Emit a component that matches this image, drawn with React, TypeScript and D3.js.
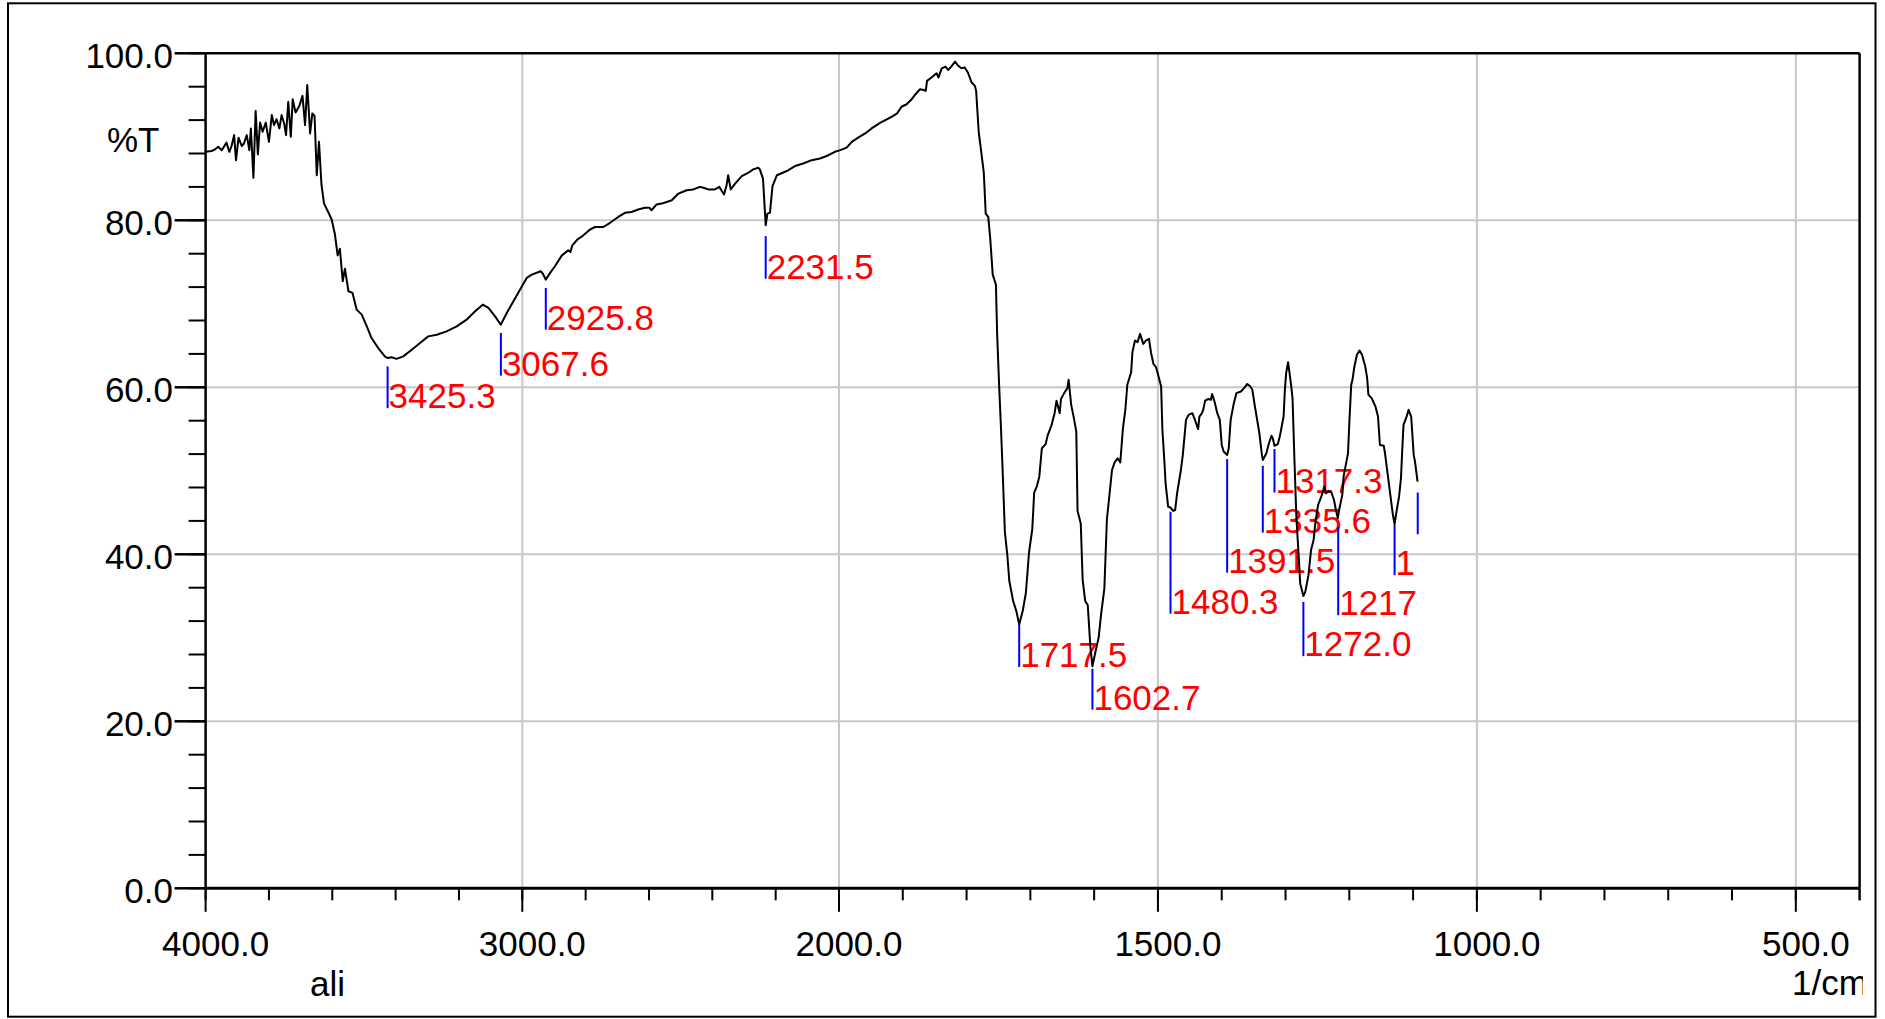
import React from 'react';
import * as d3 from 'd3';

// IR spectrum (Shimadzu style)
const wavenumbers = [
  4000, 3981, 3970, 3960, 3949, 3934, 3925, 3918, 3910, 3904, 3896, 3886, 3879, 3870, 3862, 3857,
  3849, 3842, 3835, 3828, 3820, 3810, 3800, 3791, 3784, 3776, 3767, 3760, 3752, 3746, 3739, 3731,
  3725, 3716, 3704, 3694, 3686, 3679, 3670, 3663, 3656, 3649, 3642, 3634, 3626, 3613, 3602, 3592,
  3583, 3576, 3567, 3560, 3549, 3536, 3523, 3507, 3491, 3476, 3455, 3434, 3425, 3413, 3397, 3376,
  3349, 3323, 3297, 3270, 3239, 3207, 3176, 3149, 3125, 3107, 3086, 3068, 3049, 3028, 3007, 2986,
  2970, 2942, 2935, 2926, 2912, 2897, 2875, 2855, 2848, 2842, 2826, 2807, 2786, 2770, 2744, 2723,
  2697, 2676, 2655, 2634, 2613, 2599, 2592, 2576, 2560, 2544, 2528, 2507, 2481, 2460, 2439, 2428,
  2413, 2392, 2378, 2363, 2355, 2350, 2342, 2328, 2307, 2286, 2271, 2255, 2250, 2240, 2231.5, 2226,
  2218, 2210, 2196, 2165, 2139, 2113, 2086, 2060, 2039, 2013, 1998, 1988, 1980, 1970, 1959, 1949,
  1941, 1935, 1925, 1915, 1909, 1902, 1894, 1886, 1880, 1873, 1867, 1864, 1862, 1855, 1847, 1844,
  1839, 1833, 1829, 1824, 1818, 1813, 1808, 1803, 1798, 1792, 1787, 1785, 1781, 1777, 1773, 1770,
  1766, 1763, 1759, 1754, 1752, 1749, 1746, 1743, 1740, 1736, 1733, 1727, 1722, 1717.5, 1712, 1707,
  1702, 1697, 1694, 1690, 1686, 1682, 1676, 1673, 1667, 1662, 1659, 1654, 1652, 1647, 1642, 1640,
  1636, 1632, 1628, 1626, 1621, 1618, 1614, 1610, 1606, 1602.7, 1598, 1593, 1589, 1584, 1580, 1576,
  1572, 1568, 1563, 1559, 1555, 1551, 1548, 1542, 1540, 1536, 1532, 1528, 1523, 1519, 1514, 1511,
  1507, 1503, 1499, 1495, 1493, 1490, 1488, 1484, 1480.3, 1476, 1473, 1470, 1464, 1461, 1456, 1452,
  1446, 1442, 1437, 1435, 1431, 1429, 1426, 1421, 1417, 1415, 1411, 1407, 1403, 1400, 1397, 1391.5,
  1389, 1386, 1381, 1377, 1370, 1365, 1360, 1355, 1352, 1348, 1344, 1341, 1337, 1335.6, 1330, 1326,
  1322, 1320, 1317.3, 1312, 1309, 1305, 1303, 1301, 1299, 1296, 1294, 1291, 1289, 1286, 1283, 1279,
  1277, 1272, 1269, 1264, 1260, 1256, 1253, 1249, 1245, 1243, 1239, 1237, 1232, 1228, 1224, 1221,
  1218, 1216, 1211, 1209, 1206, 1202, 1200, 1197, 1195, 1192, 1188, 1184, 1180, 1175, 1172, 1170,
  1165, 1159, 1155, 1152, 1146, 1144, 1140, 1136, 1132, 1129, 1126, 1122, 1119, 1117, 1115, 1111,
  1107, 1103, 1099, 1097, 1093,
];

const transmittance = [
  88.2, 88.3, 88.5, 88.8, 88.4, 89.3, 88.2, 88.9, 90.2, 87.2, 89.9, 88.9, 89.2, 90.2, 88.4, 91.0,
  85.1, 93.1, 87.9, 91.7, 90.6, 91.7, 89.4, 92.6, 91.4, 92.1, 91.0, 92.6, 91.6, 90.2, 94.2, 90.0,
  94.5, 92.9, 93.7, 94.9, 91.4, 96.2, 90.4, 92.8, 92.5, 85.4, 89.4, 84.2, 82.0, 81.0, 80.1, 78.4,
  75.8, 76.6, 72.7, 74.2, 71.5, 71.3, 69.3, 68.7, 67.3, 65.9, 64.7, 63.7, 63.5, 63.6, 63.4, 63.7,
  64.5, 65.3, 66.1, 66.3, 66.7, 67.3, 68.1, 69.1, 69.9, 69.5, 68.5, 67.5, 68.9, 70.3, 71.7, 73.1,
  73.5, 73.9, 73.6, 72.9, 73.7, 74.5, 75.8, 76.4, 76.2, 77.0, 77.7, 78.2, 78.9, 79.2, 79.2, 79.7,
  80.4, 80.9, 81.0, 81.3, 81.5, 81.5, 81.2, 81.9, 82.0, 82.2, 82.4, 83.2, 83.6, 83.7, 84.0, 83.9,
  83.7, 83.7, 84.0, 83.1, 84.2, 85.4, 83.7, 84.4, 85.3, 85.7, 86.1, 86.3, 86.1, 85.0, 79.4, 80.8,
  80.9, 84.1, 85.4, 85.9, 86.5, 86.8, 87.2, 87.4, 87.7, 88.2, 88.4, 88.7, 89.4, 89.9, 90.4, 91.0,
  91.4, 91.7, 92.1, 92.5, 92.8, 93.6, 93.9, 94.5, 95.1, 95.7, 95.6, 95.5, 96.7, 97.1, 97.6, 97.1,
  98.2, 98.4, 98.0, 98.4, 99.0, 98.5, 98.2, 98.3, 97.7, 96.5, 96.1, 95.5, 90.6, 88.2, 85.7, 80.8,
  80.4, 77.9, 73.5, 72.3, 66.2, 60.3, 55.0, 49.1, 42.7, 39.8, 36.8, 34.4, 33.2, 31.6, 33.2, 35.4,
  40.3, 43.0, 47.4, 48.1, 49.3, 52.7, 53.2, 54.2, 55.4, 56.9, 58.4, 56.9, 58.6, 59.3, 59.9, 60.9,
  57.9, 56.4, 54.7, 45.2, 43.7, 36.9, 34.4, 33.9, 29.0, 26.6, 28.3, 30.0, 32.9, 35.9, 44.2, 47.1,
  50.1, 51.0, 51.5, 51.0, 55.0, 57.4, 60.3, 61.8, 64.2, 65.6, 65.4, 66.4, 65.2, 65.6, 65.8, 64.2,
  62.8, 62.4, 61.3, 60.1, 54.9, 51.3, 48.5, 45.7, 45.6, 45.2, 45.3, 47.3, 50.1, 51.9, 56.1, 56.7,
  56.9, 56.1, 55.0, 56.5, 56.9, 57.3, 58.4, 58.6, 58.5, 59.2, 58.2, 56.9, 56.1, 53.1, 52.3, 51.9,
  52.7, 56.1, 58.1, 59.3, 59.5, 59.9, 60.4, 60.1, 59.7, 57.7, 55.9, 54.5, 51.9, 51.3, 52.1, 53.3,
  54.2, 53.9, 53.0, 53.2, 54.1, 55.7, 56.5, 59.7, 61.7, 63.0, 61.9, 60.1, 58.7, 51.3, 44.5, 39.3,
  36.5, 35.0, 35.5, 37.5, 40.5, 41.7, 43.9, 45.9, 46.7, 47.1, 48.1, 47.3, 47.6, 47.4, 46.5, 45.3,
  44.3, 45.3, 47.1, 49.3, 50.5, 52.1, 55.7, 60.3, 60.9, 62.5, 63.9, 64.4, 63.9, 62.5, 61.1, 59.1,
  58.7, 57.7, 56.5, 53.1, 53.0, 52.1, 49.7, 47.3, 44.9, 43.6, 45.1, 46.9, 49.1, 52.5, 55.5, 56.3,
  57.3, 56.5, 51.9, 51.1, 48.7,
];

// axis ticks
const xMajorTicks = [4000, 3000, 2000, 1500, 1000, 500];
const xTickLabels = ['4000.0', '3000.0', '2000.0', '1500.0', '1000.0', '500.0'];
const yMajorTicks = [0, 20, 40, 60, 80, 100];
const yTickLabels = ['0.0', '20.0', '40.0', '60.0', '80.0', '100.0'];

// peak picks: position, label, marker start / end in %T
const peakWaves = [3425.3, 3067.6, 2925.8, 2231.5, 1717.5, 1602.7, 1480.3, 1391.5, 1335.6, 1317.3, 1272.0, 1217.4, 1129.0, 1092.7];
const peakLabels = ['3425.3', '3067.6', '2925.8', '2231.5', '1717.5', '1602.7', '1480.3', '1391.5', '1335.6', '1317.3', '1272.0', '1217', '1', ''];
const peakMarkTop = [62.5, 66.5, 71.9, 78.1, 31.6, 26.3, 45.1, 51.4, 50.6, 52.6, 34.3, 43.3, 43.5, 47.4];
const peakMarkBottom = [57.5, 61.4, 66.9, 73.0, 26.5, 21.4, 32.9, 37.8, 42.6, 47.4, 27.8, 32.7, 37.5, 42.4];

const FONT = "'Liberation Sans', Arial, sans-serif";

export default function App() {
  const width = 1885;
  const height = 1019;
  const left = 205.6;
  const right = 1859.6;
  const top = 53.3;
  const bottom = 888.3;

  // x has a scale change at 2000 (upper range compressed by 2)
  const x = d3.scaleLinear().domain([4000, 2000, 400]).range([left, 839, right]);
  const y = d3.scaleLinear().domain([0, 100]).range([bottom, top]);

  const minorX = d3.range(4000, 2000, -200).concat(d3.range(2000, 399, -100));
  const minorY = d3.range(0, 101, 4);

  const line = d3.line<number>()
    .x((_, i) => x(wavenumbers[i]))
    .y(d => y(d));

  const grid = '#c8c8c8';

  return (
    <svg width={width} height={height} style={{ position: 'absolute', left: 0, top: 0, background: '#fff' }}
      fontFamily={FONT}>
      <defs>
        <clipPath id="unitClip">
          <rect x={0} y={0} width={1863} height={height} />
        </clipPath>
      </defs>
      <rect x={0} y={0} width={width} height={height} fill="#fff" />
      <rect x={8} y={3.3} width={1867.5} height={1013.4} fill="none" stroke="#000" strokeWidth={2} />

      {/* grid */}
      {yMajorTicks.slice(1, -1).map(v => (
        <line key={'gy' + v} x1={left} x2={right} y1={y(v)} y2={y(v)} stroke={grid} strokeWidth={2} />
      ))}
      {xMajorTicks.slice(1).map(v => (
        <line key={'gx' + v} x1={x(v)} x2={x(v)} y1={top} y2={bottom} stroke={grid} strokeWidth={2} />
      ))}

      {/* y axis */}
      {minorY.map(v => (
        <line key={'my' + v} x1={left - 17} x2={left} y1={y(v)} y2={y(v)} stroke="#000" strokeWidth={2} />
      ))}
      {yMajorTicks.map((v, i) => (
        <g key={'ty' + v}>
          <line x1={left - 31} x2={left} y1={y(v)} y2={y(v)} stroke="#000" strokeWidth={2.5} />
          <text x={173} y={y(v) + 15} fontSize={35} textAnchor="end" fill="#000">{yTickLabels[i]}</text>
        </g>
      ))}
      <text x={107} y={152} fontSize={35} fill="#000">%T</text>

      {/* x axis */}
      {minorX.map(v => (
        <line key={'mx' + v} x1={x(v)} x2={x(v)} y1={bottom} y2={bottom + 12} stroke="#000" strokeWidth={2} />
      ))}
      {xMajorTicks.map((v, i) => (
        <g key={'tx' + v}>
          <line x1={x(v)} x2={x(v)} y1={bottom} y2={bottom + 23.5} stroke="#000" strokeWidth={2} />
          <text x={x(v) + 10} y={956} fontSize={35} textAnchor="middle" fill="#000">{xTickLabels[i]}</text>
        </g>
      ))}
      <line x1={right} x2={right} y1={bottom} y2={bottom + 12} stroke="#000" strokeWidth={2} />
      <text x={310} y={996} fontSize={35} fill="#000">ali</text>
      <text x={1792} y={995} fontSize={35} fill="#000" clipPath="url(#unitClip)">1/cm</text>

      {/* plot frame */}
      <line x1={left} x2={right} y1={top} y2={top} stroke="#000" strokeWidth={2.5} />
      <line x1={right} x2={right} y1={top} y2={bottom} stroke="#000" strokeWidth={2.5} />
      <line x1={left} x2={left} y1={top} y2={bottom} stroke="#000" strokeWidth={2.5} />
      <line x1={left} x2={right} y1={bottom} y2={bottom} stroke="#000" strokeWidth={3} />

      {/* peak picks */}
      {peakWaves.map((w, i) => (
        <g key={'pk' + i}>
          <line x1={x(w)} x2={x(w)} y1={y(peakMarkTop[i])} y2={y(peakMarkBottom[i])} stroke="#0000ff" strokeWidth={2} />
          {peakLabels[i] && (
            <text x={x(w) + 1} y={y(peakMarkBottom[i])} fontSize={35} fill="#ff0000">{peakLabels[i]}</text>
          )}
        </g>
      ))}

      {/* spectrum */}
      <path d={line(transmittance) || ''} fill="none" stroke="#000" strokeWidth={2} strokeLinejoin="round" />
    </svg>
  );
}
